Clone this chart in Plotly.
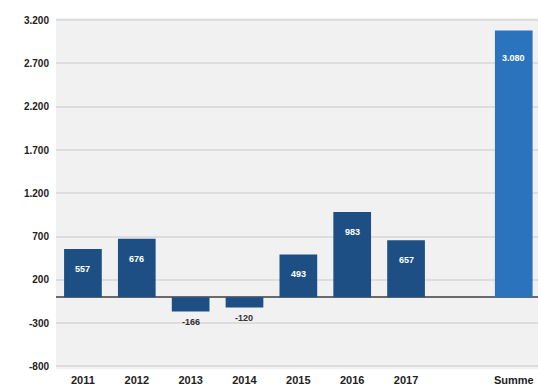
import plotly.graph_objects as go

categories = ["2011", "2012", "2013", "2014", "2015", "2016", "2017", "", "Summe"]
values = [557, 676, -166, -120, 493, 983, 657, None, 3080]
y_ticks = [-800, -300, 200, 700, 1200, 1700, 2200, 2700, 3200]

dark = "#1d4f85"
light = "#2b74bd"
colors = [dark] * 7 + [dark, light]

xs = list(range(len(categories)))
bx = [x for x, v in zip(xs, values) if v is not None]
bv = [v for v in values if v is not None]
bc = [c for c, v in zip(colors, values) if v is not None]

fig = go.Figure()
fig.add_trace(go.Bar(x=bx, y=bv, marker=dict(color=bc, line=dict(width=0)), width=0.7,
                     hoverinfo="skip"))

def fmt(v):
    s = f"{abs(v):,}".replace(",", ".")
    return ("-" if v < 0 else "") + s

for x, v in zip(bx, bv):
    if v >= 0:
        shift = -13 if v < 2000 else -20
        fig.add_annotation(x=x, y=v, text="<b>" + fmt(v) + "</b>", showarrow=False, yanchor="top",
                           yshift=shift, font=dict(color="white", size=9, family="Liberation Sans"))
    else:
        fig.add_annotation(x=x, y=v, text="<b>" + fmt(v) + "</b>", showarrow=False, yanchor="top",
                           yshift=-3, font=dict(color="#333333", size=9, family="Liberation Sans"))

fig.update_layout(
    width=538, height=392,
    margin=dict(l=56, r=0, t=18, b=23),
    paper_bgcolor="white", plot_bgcolor="#f1f1f1",
    separators=",.",
    showlegend=False,
    font=dict(family="Liberation Sans", size=10, color="#222222"),
    xaxis=dict(tickmode="array", tickvals=xs, ticktext=["<b>" + c + "</b>" if c else "" for c in categories],
               range=[-0.5, 8.45], showgrid=False, zeroline=False, ticks="",
               ticklabelstandoff=3, tickfont=dict(size=11, color="#222222")),
    yaxis=dict(tickmode="array", tickvals=y_ticks, ticktext=["<b>" + fmt(t) + "</b>" for t in y_ticks],
               range=[-830, 3225], showgrid=True, gridcolor="#dddddd", gridwidth=1.5,
               zeroline=True, zerolinecolor="#6a6a6a", zerolinewidth=2, ticks="",
               ticklabelstandoff=6, tickfont=dict(size=10, color="#222222")),
)

fig.write_html("out.html")
